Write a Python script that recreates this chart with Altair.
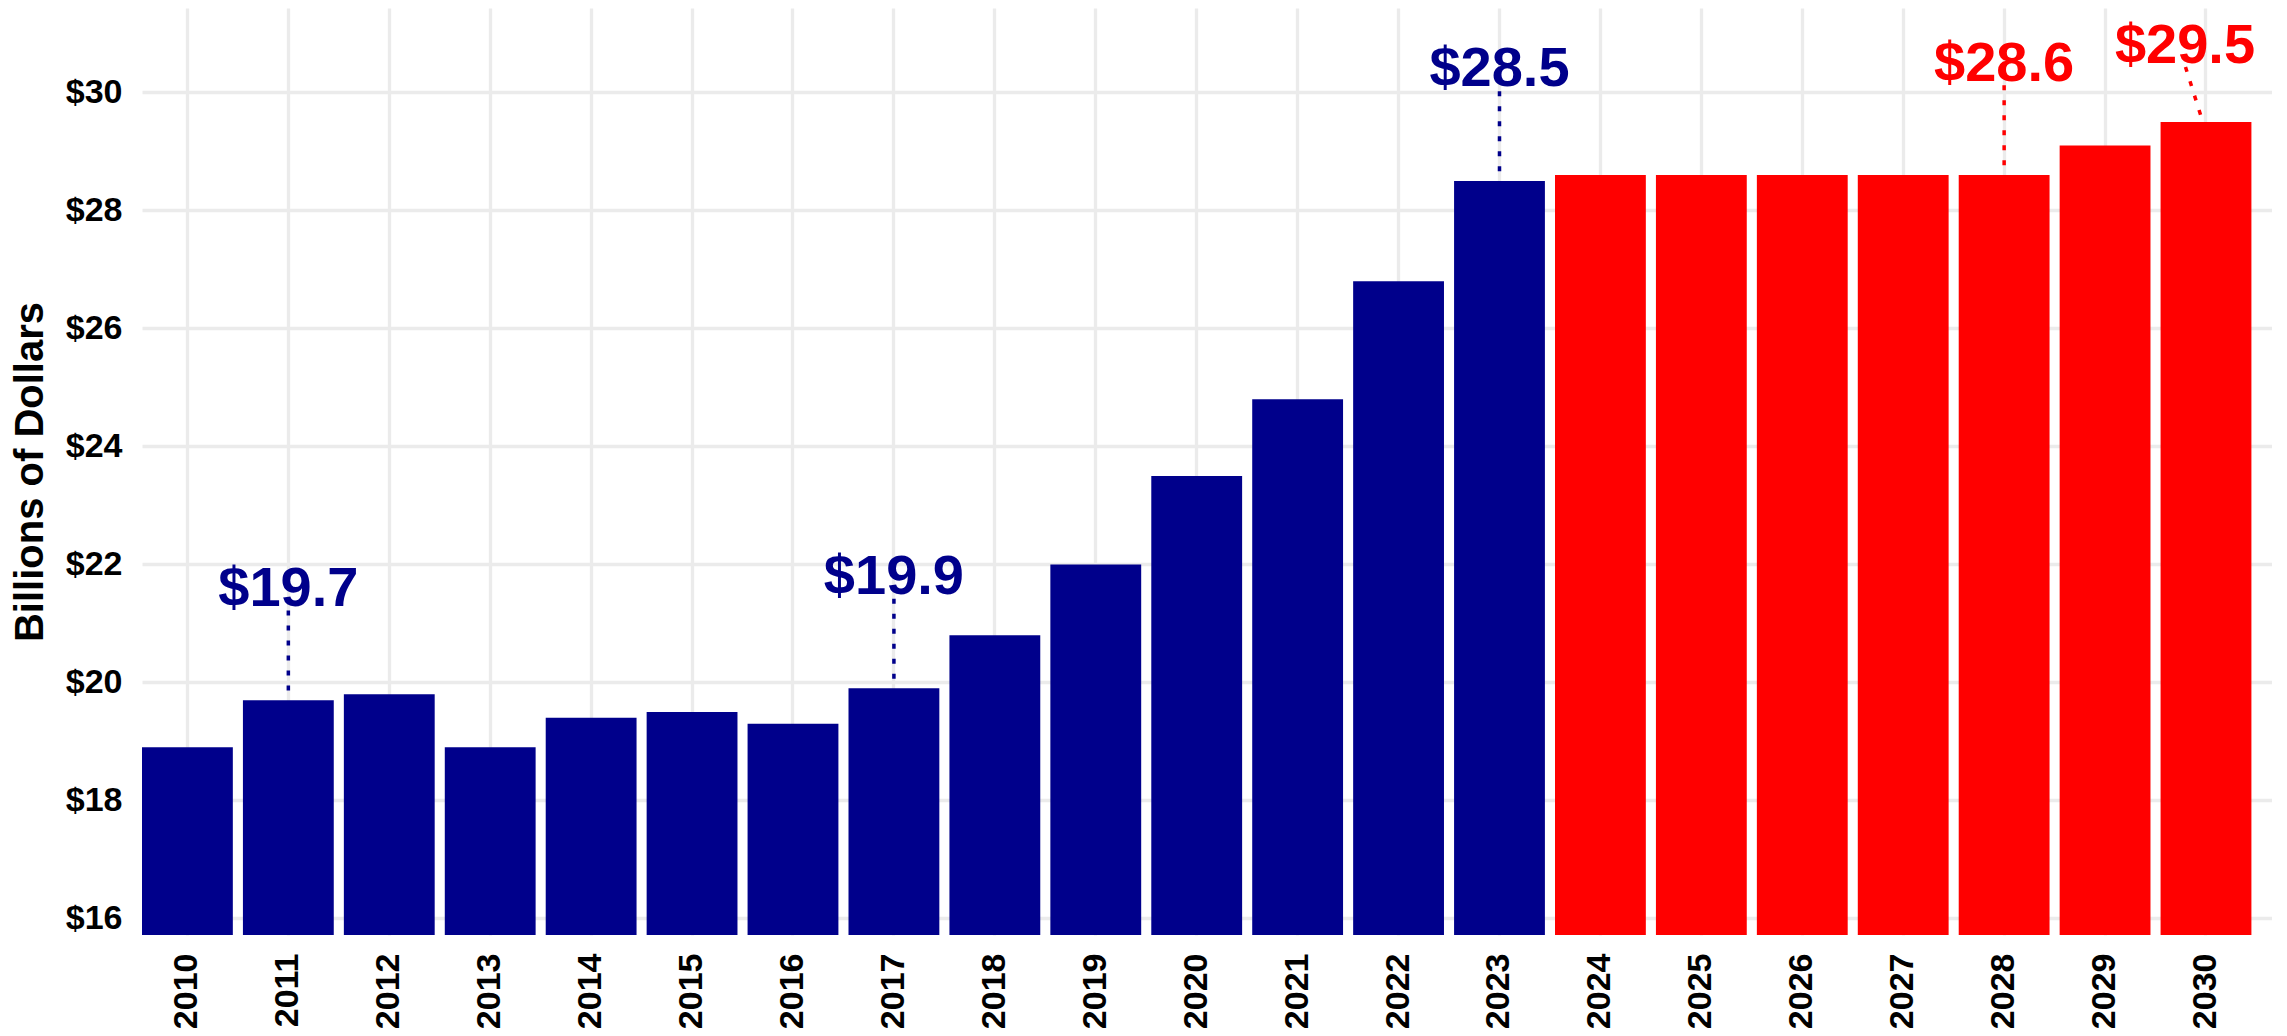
import altair as alt
import pandas as pd

# ---- data ----
years = ["2010", "2011", "2012", "2013", "2014", "2015", "2016", "2017", "2018", "2019",
         "2020", "2021", "2022", "2023", "2024", "2025", "2026", "2027", "2028", "2029", "2030"]
values = [18.9, 19.7, 19.8, 18.9, 19.4, 19.5, 19.3, 19.9, 20.8, 22.0,
          23.5, 24.8, 26.8, 28.5, 28.6, 28.6, 28.6, 28.6, 28.6, 29.1, 29.5]
series = ["Actual"] * 14 + ["Projected"] * 7

label_years = ["2011", "2017", "2023", "2028"]
label_texts = ["$19.7", "$19.9", "$28.5", "$28.6"]
label_values = [19.7, 19.9, 28.5, 28.6]
label_series = ["Actual", "Actual", "Actual", "Projected"]

edge_year = ["2030"]
edge_text = ["$29.5"]
edge_value = [29.5]
edge_series = ["Projected"]

y_ticks = [16, 18, 20, 22, 24, 26, 28, 30]

# ---- styling ----
FONT = "Liberation Sans"
NAVY = "#00008B"
RED = "#FF0000"
GRID = "#EBEBEB"
Y_MIN, Y_MAX = 15.72, 31.43

df = pd.DataFrame({"year": years, "value": values, "series": series})
ann = pd.DataFrame({"year": label_years, "label": label_texts,
                    "value": label_values, "series": label_series})
edge = pd.DataFrame({"year": edge_year, "label": edge_text,
                     "value": edge_value, "series": edge_series})

color = alt.Color("series:N",
                  scale=alt.Scale(domain=["Actual", "Projected"], range=[NAVY, RED]),
                  legend=None)

x_enc = alt.X("year:N", sort=years,
              scale=alt.Scale(domain=years, paddingInner=0.1, paddingOuter=0.102, align=0),
              axis=alt.Axis(title=None, labelAngle=270, labelFontSize=34, labelFont=FONT,
                            labelFontWeight="bold", labelColor="black", labelPadding=18,
                            ticks=False, domain=False, grid=True, gridColor=GRID,
                            gridWidth=3.3, bandPosition=0.5))

y_enc = alt.Y("value:Q",
              scale=alt.Scale(domain=[Y_MIN, Y_MAX], nice=False, zero=False),
              axis=alt.Axis(title="Billions of Dollars", values=y_ticks,
                            labelExpr="'$' + datum.value", labelFontSize=34, labelFont=FONT,
                            labelFontWeight="bold", labelColor="black", labelPadding=20,
                            ticks=False, domain=False, grid=True, gridColor=GRID, gridWidth=3.3,
                            titleFont=FONT, titleFontSize=40, titleFontWeight="bold",
                            titleColor="black", titleX=-112, titleBaseline="middle"))

bars = alt.Chart(df).mark_bar().encode(
    x=x_enc, y=y_enc, y2=alt.Y2(datum=Y_MIN), color=color
)

texts = alt.Chart(ann).transform_calculate(ty="datum.value + 1.6").mark_text(
    font=FONT, fontSize=56, fontWeight="bold", align="center", baseline="alphabetic"
).encode(x=alt.X("year:N", sort=years), y=alt.Y("ty:Q"), text="label:N", color=color)

lines = alt.Chart(ann).transform_calculate(
    top="datum.value + 1.52", bot="datum.value + 0.14"
).mark_rule(strokeWidth=3.5, strokeDash=[5, 10]).encode(
    x=alt.X("year:N", sort=years), y=alt.Y("top:Q"), y2="bot:Q", color=color
)

edge_text_layer = alt.Chart(edge).transform_calculate(ty="datum.value + 1.0").mark_text(
    font=FONT, fontSize=56, fontWeight="bold", align="center", baseline="alphabetic", dx=-21
).encode(x=alt.X("year:N", sort=years), y=alt.Y("ty:Q"), text="label:N", color=color)

edge_line = alt.Chart(edge).transform_calculate(
    top="datum.value + 0.93", bot="datum.value + 0.07"
).mark_rule(strokeWidth=3.5, strokeDash=[5, 10], xOffset=-20.5, x2Offset=-4.5).encode(
    x=alt.X("year:N", sort=years), x2="year:N", y=alt.Y("top:Q"), y2="bot:Q", color=color
)

chart = alt.layer(bars, lines, texts, edge_line, edge_text_layer).properties(
    width=2130, height=927,
    autosize=alt.AutoSizeParams(type="none"),
    padding={"left": 134, "top": 0, "right": 0, "bottom": 93},
    background="white",
).configure_view(stroke=None)

chart.save("out.html", embed_options={"renderer": "svg", "actions": False})
